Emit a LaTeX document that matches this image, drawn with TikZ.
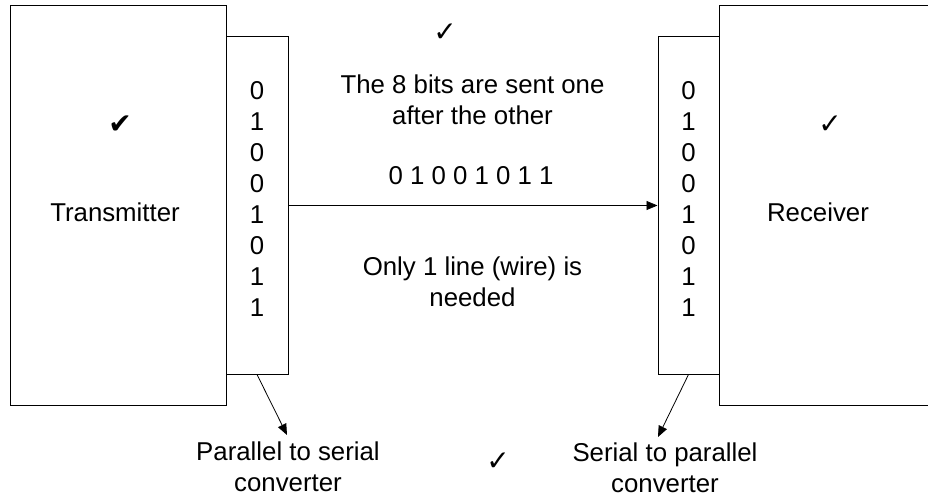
\documentclass[tikz,border=0pt]{standalone}
\usepackage{fontspec}
\setmainfont{Liberation Sans}
\newfontfamily\tickfont{DejaVu Sans}
\usetikzlibrary{arrows.meta}

\tikzset{
  block/.style={draw,line width=1pt,inner sep=0pt},
  lbl/.style={align=center,inner sep=0pt,font=\fontsize{25.8}{31}\selectfont},
  tick/.style={inner sep=0pt,font=\tickfont\fontsize{28}{28}\selectfont},
  pointer/.style={line width=0.8pt,-{Triangle[length=11pt,width=9pt]}}
}

\begin{document}
\begin{tikzpicture}[x=1pt,y=-1pt]
 \useasboundingbox (0,0) rectangle (928,497);

 % transmitter side
 \node[block,minimum width=216pt,minimum height=399pt] (tx) at (118,205.5) {};
 \node[block,minimum width=62pt,minimum height=337pt] (txconv) at (257,205.5) {};
 \node[lbl] (txname) at (115,212) {Transmitter};
 \node[tick] (txtick) at (120,125) {✔};
 \node[lbl] (txbits) at (257,199) {0\\1\\0\\0\\1\\0\\1\\1};

 % receiver side
 \node[block,minimum width=61pt,minimum height=337pt] (rxconv) at (688.5,205.5) {};
 \node[block,minimum width=221pt,minimum height=399pt] (rx) at (829.5,205.5) {};
 \node[lbl] (rxname) at (818,212) {Receiver};
 \node[tick] (rxtick) at (830,125) {✓};
 \node[lbl] (rxbits) at (688.5,199) {0\\1\\0\\0\\1\\0\\1\\1};

 % the line between
 \draw[pointer] (txconv.east) -- (rxconv.west);
 \node[tick] (toptick) at (445,33) {✓};
 \node[lbl] (sent) at (472.5,100) {The 8 bits are sent one\\after the other};
 \node[lbl] (serial) at (471,176) {0 1 0 0 1 0 1 1};
 \node[lbl] (wire) at (472.5,282) {Only 1 line (wire) is\\needed};

 % converters
 \coordinate (txtip) at (287,435);
 \coordinate (rxtip) at (658,437);
 \draw[pointer] (txconv.south) -- (txtip);
 \draw[pointer] (rxconv.south) -- (rxtip);
 \node[lbl] (p2s) at (288,467) {Parallel to serial\\converter};
 \node[lbl] (s2p) at (665,468) {Serial to parallel\\converter};
 \node[tick] (bottick) at (498,462) {✓};
\end{tikzpicture}
\end{document}
